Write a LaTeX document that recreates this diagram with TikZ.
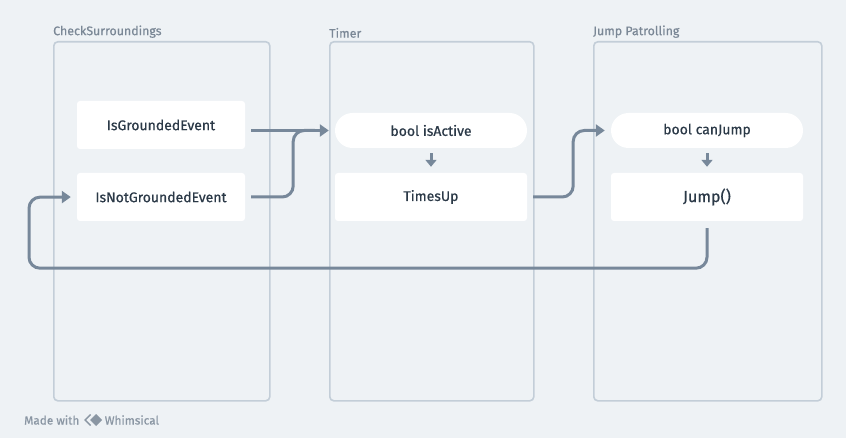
\documentclass[tikz,border=0pt]{standalone}
\usepackage{fontspec}
\setmainfont{Fira Sans}
\newfontfamily\medfont{Fira Sans}[FakeBold=0.6]
\usetikzlibrary{arrows.meta,calc}
\definecolor{bg}{HTML}{EEF2F5}
\definecolor{frame}{HTML}{C3CED8}
\definecolor{flabel}{HTML}{7B8896}
\definecolor{conn}{HTML}{77889A}
\definecolor{txt}{HTML}{2B3947}
\definecolor{foot}{HTML}{8A96A3}
\tikzset{
  container/.style={draw=frame, line width=1.6pt, rounded corners=4pt, anchor=north west, inner sep=0pt},
  clabel/.style={anchor=south west, inner sep=0pt, text=flabel, font=\medfont\fontsize{12.4}{14}\selectfont},
  box/.style={fill=white, rounded corners=3pt, minimum width=168pt, minimum height=48pt, inner sep=0pt, text=txt, font=\medfont\fontsize{14}{16}\selectfont},
  wbox/.style={box, minimum width=192pt},
  pill/.style={fill=white, rounded corners=17.5pt, minimum width=192pt, minimum height=35pt, inner sep=0pt, text=txt, font=\medfont\fontsize{14}{16}\selectfont},
  link/.style={draw=conn, line width=3pt, rounded corners=11pt, -{Triangle[length=9pt,width=12pt]}, shorten <=6pt, shorten >=6pt},
  nolink/.style={draw=conn, line width=3pt, rounded corners=11pt},
  foottext/.style={anchor=west, inner sep=0pt, text=foot, font=\medfont\fontsize{11.8}{14}\selectfont},
}
\begin{document}
\begin{tikzpicture}[x=1pt,y=-1pt]
\fill[bg] (0,0) rectangle (846,438);
\useasboundingbox (0,0) rectangle (846,438);
% containers
\node[container, minimum width=216pt, minimum height=359pt] (c1) at (53,41) {};
\node[clabel] (c1l) at (53,38) {CheckSurroundings};
\node[container, minimum width=204pt, minimum height=359pt] (c2) at (329,41) {};
\node[clabel] (c2l) at (329,38) {Timer};
\node[container, minimum width=228pt, minimum height=359pt] (c3) at (593,41) {};
\node[clabel] (c3l) at (593,38) {Jump Patrolling};
% nodes
\node[box] (ige) at (161,125) {IsGroundedEvent};
\node[box] (ing) at (161,197) {IsNotGroundedEvent};
\node[pill] (act) at (431,130.5) {bool isActive};
\node[wbox] (tup) at (431,197) {TimesUp};
\node[pill] (cj) at (707,130.5) {bool canJump};
\node[wbox, font=\medfont\fontsize{16}{18}\selectfont] (jmp) at (707,197) {Jump()};
% connectors
\draw[link] (ige.east |- act.west) -- (act.west);
\draw[nolink, shorten <=6pt] (ing.east) -- ++(48,0) |- ($(act.west)+(-20,0)$);
\draw[link] (tup.east) -- ++(46,0) |- (cj.west);
\draw[link, shorten <=7pt] (jmp.south) -- ++(0,47) -| ++(-678,-71) -- (ing.west);
\draw[draw=conn, line width=3pt, -{Triangle[length=7pt,width=11pt]}, shorten <=5pt, shorten >=6pt] (act.south) -- (tup.north);
\draw[draw=conn, line width=3pt, -{Triangle[length=7pt,width=11pt]}, shorten <=5pt, shorten >=6pt] (cj.south) -- (jmp.north);
% footer
\node[foottext] (made) at (24,420) {Made with};
\coordinate (lg) at ($(made.east)+(12,0)$);
\draw[foot, line width=1.4pt] ($(lg)+(-1,-5.5)$) -- ($(lg)+(-6.5,0)$) -- ($(lg)+(-1,5.5)$);
\fill[foot] ($(lg)+(4.5,-6)$) -- ($(lg)+(10.5,0)$) -- ($(lg)+(4.5,6)$) -- ($(lg)+(-1.5,0)$) -- cycle;
\node[foottext] (whim) at ($(lg)+(13,0)$) {Whimsical};
\end{tikzpicture}
\end{document}
